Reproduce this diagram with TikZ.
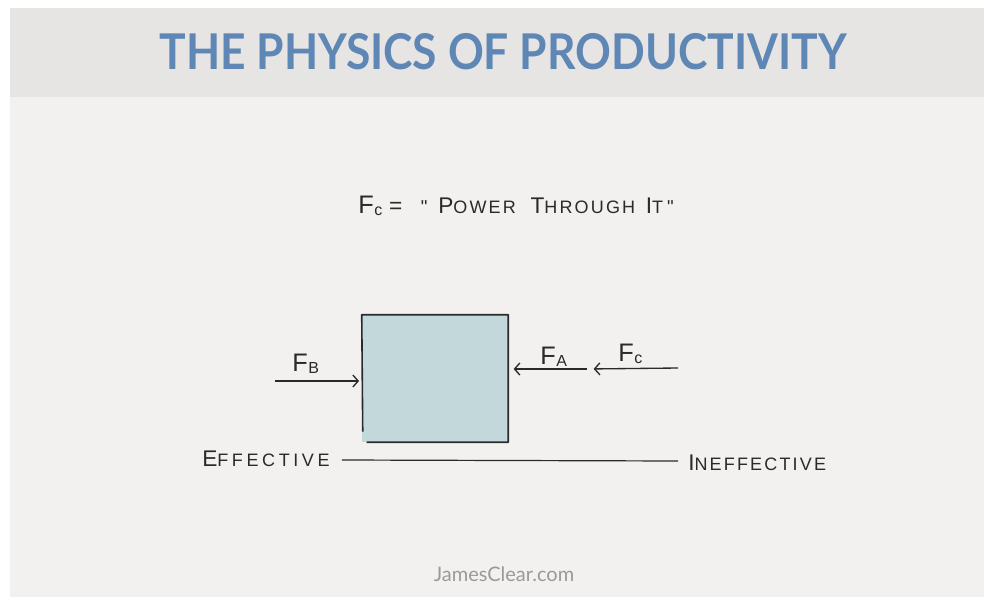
\documentclass[tikz,border=0pt]{standalone}
\usepackage{fontspec}
\setmainfont{Lato}
\newfontfamily\handfont[LetterSpace=12]{Liberation Sans}
\usetikzlibrary{arrows.meta,positioning}

\definecolor{bandgrey}{HTML}{E6E5E3}
\definecolor{paper}{HTML}{F2F1EF}
\definecolor{titleblue}{HTML}{5F87B6}
\definecolor{boxfill}{HTML}{C3D8DA}
\definecolor{ink}{HTML}{2A2A2A}
\definecolor{webgrey}{HTML}{9A9A9A}

% big first letter, small caps for the rest
\newcommand{\bigsmall}[2]{{\fontsize{17}{17}\selectfont #1}{\fontsize{13.5}{13.5}\selectfont #2}}
% force label F with a small index
\newcommand{\flabel}[1]{{\fontsize{19}{19}\selectfont F}\kern0.5pt\raisebox{-2pt}{\fontsize{12}{12}\selectfont #1}}

\begin{document}
\begin{tikzpicture}[x=0.75pt, y=-0.75pt,
  hand/.style={font=\handfont, text=ink, inner sep=0pt},
  force/.style={draw=ink, line width=1pt, -{Straight Barb[length=4pt,width=9pt]}}]
  % Background
  \fill[white] (0,0) rectangle (984,599);
  \fill[paper] (10,8) rectangle (984,597);
  \fill[bandgrey] (10,8) rectangle (984,97);

  % Title
  \node[font=\bfseries\fontsize{37}{37}\selectfont, text=titleblue] (title) at (503,52) {\scalebox{0.9}[1]{THE PHYSICS OF PRODUCTIVITY}};

  % Formula
  \node[hand, anchor=base west] (formula) at (358,213)
    {\flabel{c}\hspace{5pt}{\fontsize{17}{17}\selectfont =}\hspace{14pt}{\fontsize{14}{14}\selectfont "}\hspace{8pt}\bigsmall{P}{OWER}\hspace{11pt}\bigsmall{T}{HROUGH}\hspace{8pt}\bigsmall{I}{T}\hspace{3pt}{\fontsize{14}{14}\selectfont "}};

  % Block
  \node[fill=boxfill, minimum width=109.5pt, minimum height=95.25pt, inner sep=0pt] (blk) at (435,378.5) {};
  \draw[ink, line width=1.2pt, line join=round]
    (blk.south west) ++(5,0) -- (blk.south east) -- (blk.north east) -- (blk.north west) -- ++(1,117);

  % Forces
  \coordinate (fbtail) at (275,381);
  \coordinate (fatail) at (587,369);
  \coordinate (fctail) at (678,368);
  \draw[force, shorten >=2pt] (fbtail) -- (blk.west |- fbtail);
  \draw[force, shorten >=4pt] (fatail) -- (blk.east |- fatail);
  \draw[force, shorten >=5pt] (fctail) -- (fatail);
  \node[hand, anchor=base west] (lblb) at (292,371) {\flabel{B}};
  \node[hand, anchor=base west] (lbla) at (540,364) {\flabel{A}};
  \node[hand, anchor=base west] (lblc) at (618,361) {\flabel{c}};

  % Scale
  \node[hand, anchor=base west] (eff) at (202,466) {\addfontfeature{LetterSpace=20}\bigsmall{E}{FFECTIVE}};
  \node[hand, anchor=base west] (ineff) at (688,470) {\bigsmall{I}{NEFFECTIVE}};
  \draw[ink, line width=0.9pt] (eff.east |- 0,460) ++(12,0) coordinate (scalel) -- (678,461) coordinate (scaler);

  % Footer
  \node[font=\fontsize{15}{15}\selectfont, text=webgrey] (site) at (504,574) {JamesClear.com};
\end{tikzpicture}
\end{document}
